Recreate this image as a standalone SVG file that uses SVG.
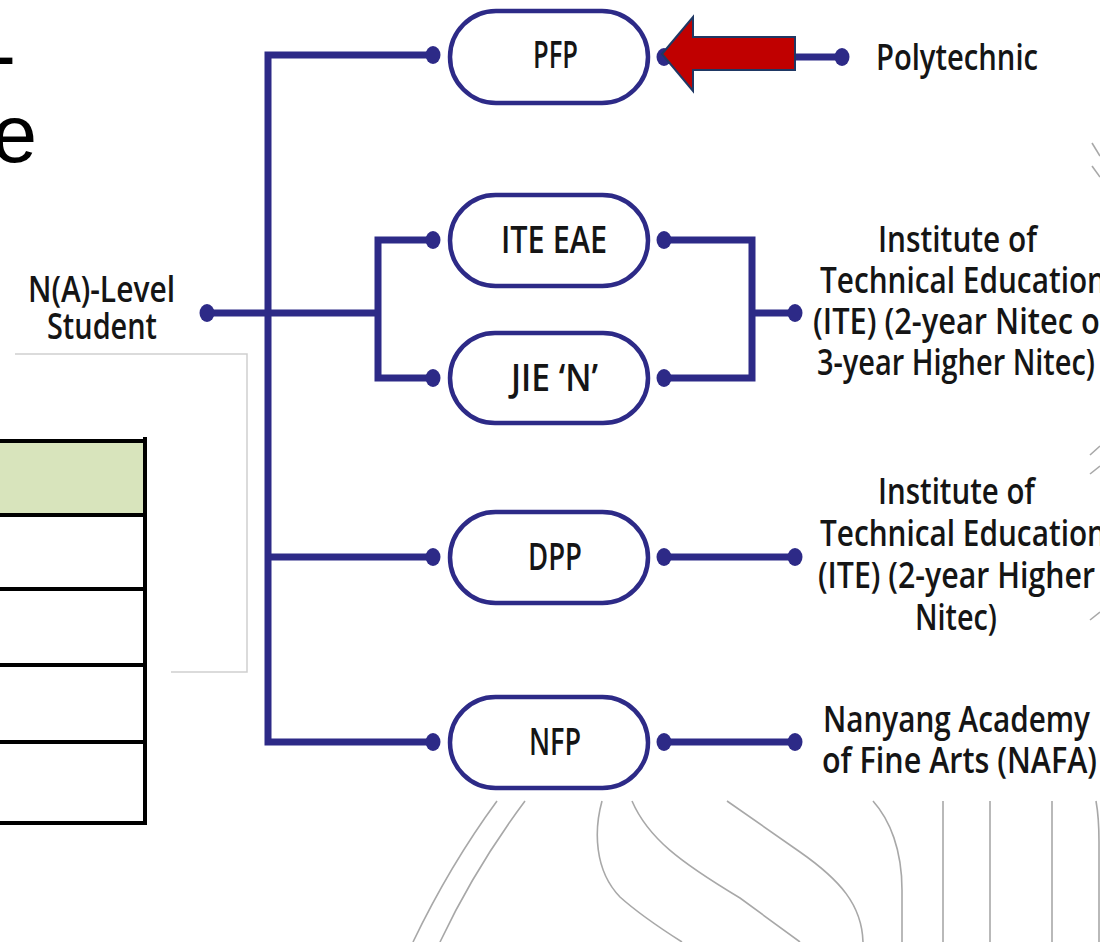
<svg xmlns="http://www.w3.org/2000/svg" width="1100" height="942" viewBox="0 0 1100 942">
<style>
.ln{fill:none;stroke:#2d2a87;stroke-width:7;stroke-linejoin:miter;stroke-linecap:butt}
.dot{fill:#2d2a87}
.pill{fill:#fff;stroke:#2d2a87;stroke-width:4.5}
.bt{font-family:"Open Sans","Liberation Sans",Arial,sans-serif;font-size:38px;font-weight:600;fill:#151515}
.lb{font-family:"Open Sans","Liberation Sans",Arial,sans-serif;font-size:36px;font-weight:600;fill:#151515}
.bg{fill:none;stroke:#a8a8a8;stroke-width:1.6}
.tb{stroke:#000;stroke-width:4;fill:none}
</style>
<rect width="1100" height="942" fill="#fff"/>
<g id="background-curves">
<path class="bg" d="M497,801 Q450,865 413,942"/>
<path class="bg" d="M525,801 Q475,868 440,942"/>
<path class="bg" d="M602,801 C594,830 594,870 620,897 C640,915 660,928 682,942"/>
<path class="bg" d="M632,801 C648,838 680,862 740,898 L800,942"/>
<path class="bg" d="M727,801 L800,852 C840,880 862,905 863,942"/>
<path class="bg" d="M873,801 C890,820 902,850 902,890 V942"/>
<path class="bg" d="M943,801 V942"/>
<path class="bg" d="M990,801 V942"/>
<path class="bg" d="M1052,801 V942"/>
<path class="bg" d="M1096,801 C1098,812 1099,830 1099,842 V942"/>
<path class="bg" d="M1092,143 L1100,156"/>
<path class="bg" d="M1092,166 L1100,177"/>
<path class="bg" d="M1090,455 L1100,446"/>
<path class="bg" d="M1090,474 L1100,466"/>
<path class="bg" d="M1090,620 L1100,612"/>
</g>
<g id="slide-text">
<text x="-11" y="83" font-family="'Liberation Sans',Arial,sans-serif" font-size="81" fill="#000">-</text>
<text x="-8" y="162" font-family="'Liberation Sans',Arial,sans-serif" font-size="81" fill="#000">e</text>
</g>
<g id="gray-frame">
<path d="M15,354 H247 V672 H171" fill="none" stroke="#cfcfcf" stroke-width="1.5"/>
</g>
<g id="table">
<rect x="0" y="441" width="145" height="74" fill="#d8e4bc"/>
<path class="tb" d="M0,441 H147 M0,515 H147 M0,589 H147 M0,665 H147 M0,742 H147 M0,823 H147 M145,437 V825"/>
</g>
<g id="connectors">
<path class="ln" d="M432,55 H268 V742 H432"/>
<path class="ln" d="M268,557 H432"/>
<path class="ln" d="M207,313 H378"/>
<path class="ln" d="M432,240 H378 V378 H432"/>
<path class="ln" d="M665,240 H752 V378 H665"/>
<path class="ln" d="M752,313 H795"/>
<path class="ln" d="M665,557 H795"/>
<path class="ln" d="M665,742 H795"/>
<path class="ln" d="M665,57 H842"/>
<ellipse class="dot" cx="207" cy="313" rx="7.5" ry="9"/>
<ellipse class="dot" cx="433" cy="55" rx="7.5" ry="9"/>
<ellipse class="dot" cx="433" cy="240" rx="7.5" ry="9"/>
<ellipse class="dot" cx="433" cy="378" rx="7.5" ry="9"/>
<ellipse class="dot" cx="433" cy="557" rx="7.5" ry="9"/>
<ellipse class="dot" cx="433" cy="742" rx="7.5" ry="9"/>
<ellipse class="dot" cx="664" cy="57" rx="7.5" ry="9"/>
<ellipse class="dot" cx="664" cy="240" rx="7.5" ry="9"/>
<ellipse class="dot" cx="664" cy="378" rx="7.5" ry="9"/>
<ellipse class="dot" cx="664" cy="557" rx="7.5" ry="9"/>
<ellipse class="dot" cx="664" cy="742" rx="7.5" ry="9"/>
<ellipse class="dot" cx="795" cy="313" rx="7.5" ry="9"/>
<ellipse class="dot" cx="795" cy="557" rx="7.5" ry="9"/>
<ellipse class="dot" cx="795" cy="742" rx="7.5" ry="9"/>
<ellipse class="dot" cx="842" cy="57" rx="7.5" ry="9"/>
</g>
<g id="node-start">
<text class="lb" x="28" y="302" textLength="147" lengthAdjust="spacingAndGlyphs">N(A)-Level</text>
<text class="lb" x="47" y="339" textLength="110" lengthAdjust="spacingAndGlyphs">Student</text>
</g>
<g id="node-pfp">
<rect class="pill" x="450" y="11" width="198" height="92" rx="46"/>
<text class="bt" x="533" y="68" textLength="45" lengthAdjust="spacingAndGlyphs">PFP</text>
</g>
<g id="node-ite-eae">
<rect class="pill" x="450" y="195" width="198" height="91" rx="45.5"/>
<text class="bt" x="501" y="253" textLength="106" lengthAdjust="spacingAndGlyphs">ITE EAE</text>
</g>
<g id="node-jie-n">
<rect class="pill" x="450" y="333" width="198" height="90" rx="45"/>
<text class="bt" x="511" y="391" textLength="87" lengthAdjust="spacingAndGlyphs" font-size="36">JIE ‘N’</text>
</g>
<g id="node-dpp">
<rect class="pill" x="450" y="512" width="198" height="91" rx="45.5"/>
<text class="bt" x="528" y="570" textLength="54" lengthAdjust="spacingAndGlyphs">DPP</text>
</g>
<g id="node-nfp">
<rect class="pill" x="450" y="697" width="198" height="91" rx="45.5"/>
<text class="bt" x="529" y="755" textLength="52" lengthAdjust="spacingAndGlyphs">NFP</text>
</g>
<g id="red-arrow">
<polygon points="662,54 693,17 693,37 795,37 795,70 693,70 693,91" fill="#c00000" stroke="#1f3864" stroke-width="2" stroke-linejoin="miter"/>
</g>
<g id="node-polytechnic">
<text class="lb" x="876" y="70" textLength="162" lengthAdjust="spacingAndGlyphs">Polytechnic</text>
</g>
<g id="node-ite-1">
<text class="lb" x="878" y="252" textLength="159" lengthAdjust="spacingAndGlyphs">Institute of</text>
<text class="lb" x="820" y="293" textLength="286" lengthAdjust="spacingAndGlyphs">Technical Education</text>
<text class="lb" x="813" y="334" textLength="300" lengthAdjust="spacingAndGlyphs">(ITE) (2-year Nitec or</text>
<text class="lb" x="817" y="375" textLength="278" lengthAdjust="spacingAndGlyphs">3-year Higher Nitec)</text>
</g>
<g id="node-ite-2">
<text class="lb" x="878" y="504" textLength="157" lengthAdjust="spacingAndGlyphs">Institute of</text>
<text class="lb" x="820" y="546" textLength="286" lengthAdjust="spacingAndGlyphs">Technical Education</text>
<text class="lb" x="818" y="588" textLength="277" lengthAdjust="spacingAndGlyphs">(ITE) (2-year Higher</text>
<text class="lb" x="915" y="630" textLength="82" lengthAdjust="spacingAndGlyphs">Nitec)</text>
</g>
<g id="node-nafa">
<text class="lb" x="823" y="732" textLength="267" lengthAdjust="spacingAndGlyphs">Nanyang Academy</text>
<text class="lb" x="822" y="773" textLength="275" lengthAdjust="spacingAndGlyphs">of Fine Arts (NAFA)</text>
</g>
</svg>
